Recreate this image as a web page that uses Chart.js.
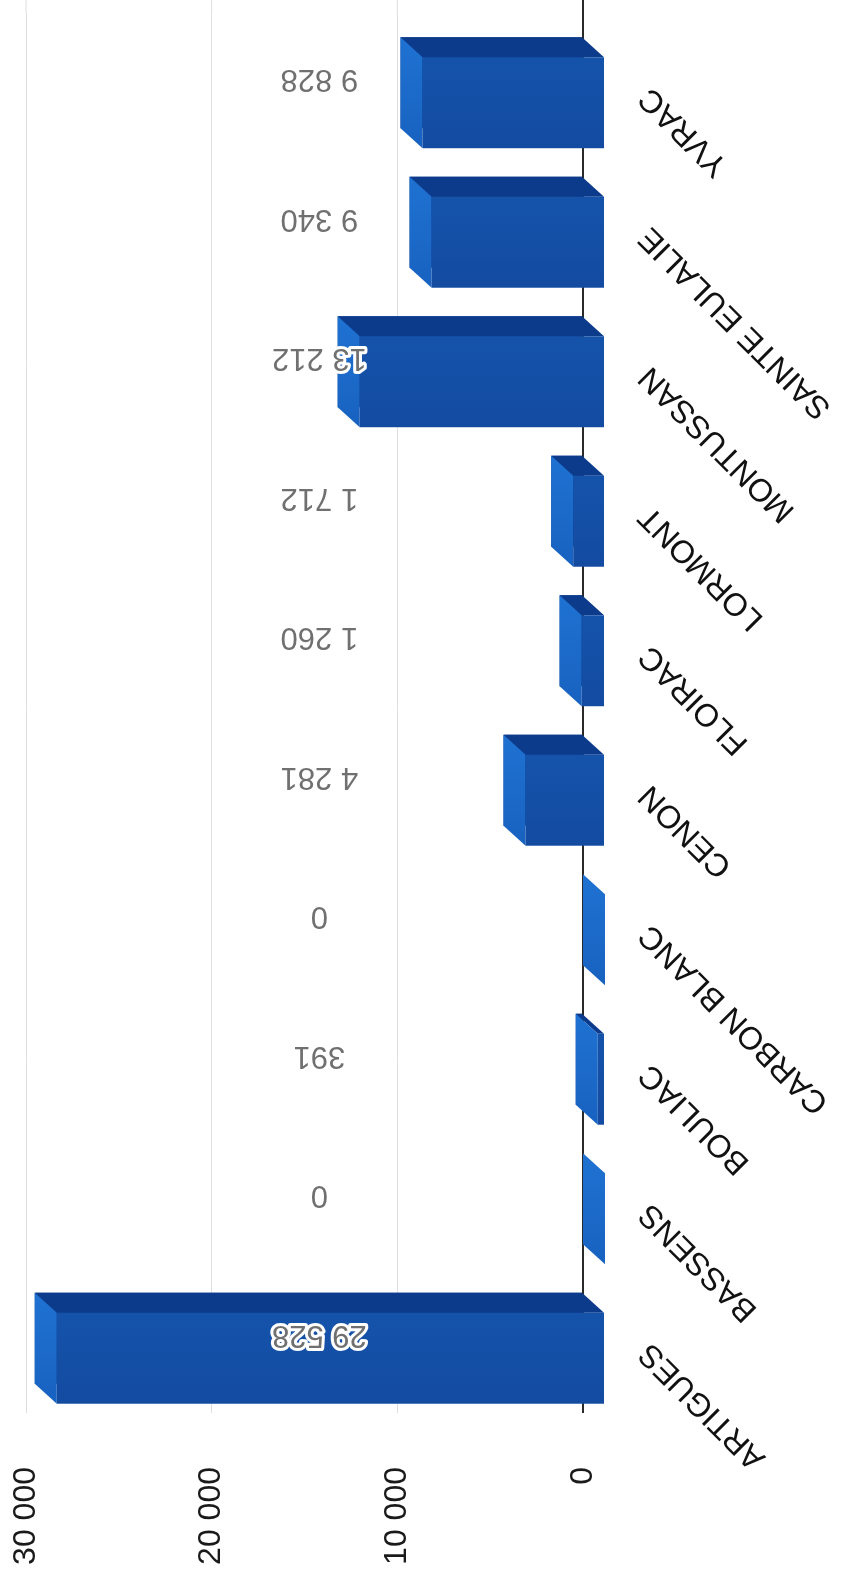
<!DOCTYPE html>
<html>
<head>
<meta charset="utf-8">
<script src="https://cdn.jsdelivr.net/npm/chart.js@4.4.1/dist/chart.umd.min.js"></script>
<style>
  html, body { margin: 0; padding: 0; background: #fff; }
  #wrap { width: 841px; height: 1573px; }
</style>
</head>
<body>
<div id="wrap"><canvas id="communesChart"></canvas></div>
<script>
const communes = ["ARTIGUES", "BASSENS", "BOULIAC", "CARBON BLANC", "CENON", "FLOIRAC", "LORMONT", "MONTUSSAN", "SAINTE EULALIE", "YVRAC"];
const valeurs = [29528, 0, 391, 0, 4281, 1260, 1712, 13212, 9340, 9828];
const ticksValeurs = [0, 10000, 20000, 30000];

const FONT = "'Liberation Sans', Arial, sans-serif";
const DX = 22, DY = 20;       // profondeur 3D
const POS_ETIQUETTE = 14200;  // les valeurs sont toutes affichées à la même hauteur

const fmt = (n) => String(n).replace(/\B(?=(\d{3})+(?!\d))/g, " ");

const barres3d = {
  id: "barres3d",
  beforeDatasetsDraw(chart) {
    // prolonge la grille jusqu'en haut du cadre
    const ctx = chart.ctx, x = chart.scales.x;
    ctx.save();
    ticksValeurs.forEach((v) => {
      const px = x.getPixelForValue(v);
      ctx.strokeStyle = v === 0 ? "#2a2a2a" : "#dedede";
      ctx.lineWidth = v === 0 ? 2 : 1;
      ctx.beginPath();
      ctx.moveTo(px, 0);
      ctx.lineTo(px, chart.chartArea.top);
      ctx.stroke();
    });
    ctx.restore();
  },
  afterDatasetsDraw(chart) {
    const ctx = chart.ctx;
    chart.getDatasetMeta(0).data.forEach((bar) => {
      const p = bar.getProps(["x", "y", "base", "height"], true);
      const left = Math.min(p.x, p.base), right = Math.max(p.x, p.base);
      const top = p.y - p.height / 2, bottom = p.y + p.height / 2;
      ctx.save();
      ctx.fillStyle = "#0d3b8c";
      ctx.beginPath();
      ctx.moveTo(left, top);
      ctx.lineTo(right, top);
      ctx.lineTo(right + DX, top + DY);
      ctx.lineTo(left + DX, top + DY);
      ctx.closePath();
      ctx.fill();

      const gs = ctx.createLinearGradient(0, top, 0, bottom + DY);
      gs.addColorStop(0, "#1f72d2");
      gs.addColorStop(1, "#1862c0");
      ctx.fillStyle = gs;
      ctx.beginPath();
      ctx.moveTo(left, top);
      ctx.lineTo(left + DX, top + DY);
      ctx.lineTo(left + DX, bottom + DY);
      ctx.lineTo(left, bottom);
      ctx.closePath();
      ctx.fill();

      const gf = ctx.createLinearGradient(0, top + DY, 0, bottom + DY);
      gf.addColorStop(0, "#1553ab");
      gf.addColorStop(1, "#134ba1");
      ctx.fillStyle = gf;
      ctx.fillRect(left + DX, top + DY, right - left, bottom - top);
      ctx.restore();
    });
  },
  afterDraw(chart) {
    const ctx = chart.ctx;
    const x = chart.scales.x, y = chart.scales.y;
    ctx.save();
    // valeurs (retournées)
    ctx.font = "31px " + FONT;
    ctx.textAlign = "center";
    ctx.textBaseline = "middle";
    ctx.lineJoin = "round";
    valeurs.forEach((v, i) => {
      ctx.save();
      ctx.translate(x.getPixelForValue(POS_ETIQUETTE), y.getPixelForValue(i) - 4);
      ctx.rotate(Math.PI);
      ctx.lineWidth = 6;
      ctx.strokeStyle = "#ffffff";
      ctx.strokeText(fmt(v), 0, 0);
      ctx.fillStyle = "#707070";
      ctx.fillText(fmt(v), 0, 0);
      ctx.restore();
    });
    // noms des communes
    ctx.font = "32px " + FONT;
    ctx.fillStyle = "#111";
    ctx.textAlign = "right";
    communes.forEach((c, i) => {
      ctx.save();
      ctx.translate(chart.chartArea.right + 62, y.getPixelForValue(i) + 10);
      ctx.rotate(-3 * Math.PI / 4);
      ctx.fillText(c, 0, 0);
      ctx.restore();
    });
    ctx.restore();
  }
};

new Chart(document.getElementById("communesChart").getContext("2d"), {
  type: "bar",
  data: {
    labels: communes,
    datasets: [
      {
        label: "Communes",
        data: valeurs,
        backgroundColor: "#0d3b8c",
        borderWidth: 0,
        barPercentage: 0.652,
        categoryPercentage: 1,
      },
    ],
  },
  options: {
    indexAxis: "y",
    responsive: true,
    maintainAspectRatio: false,
    animation: false,
    layout: { padding: { top: 13, right: 258, left: 26, bottom: 5 } },
    plugins: { legend: { display: false }, tooltip: { enabled: false } },
    scales: {
      x: {
        reverse: true,
        min: 0,
        max: 30000,
        afterBuildTicks: (s) => { s.ticks = ticksValeurs.map((v) => ({ value: v })); },
        afterFit: (s) => { s.height = 160; },
        border: { display: false },
        grid: {
          color: (c) => (c.tick && c.tick.value === 0 ? "#2a2a2a" : "#dedede"),
          lineWidth: (c) => (c.tick && c.tick.value === 0 ? 2 : 1),
          tickLength: 5,
        },
        ticks: {
          minRotation: 90,
          maxRotation: 90,
          padding: 54,
          color: "#1a1a1a",
          font: { size: 32, family: FONT },
          callback: (v) => fmt(v),
        },
      },
      y: { display: false, reverse: true, grid: { display: false } },
    },
  },
  plugins: [barres3d],
});
</script>
</body>
</html>
